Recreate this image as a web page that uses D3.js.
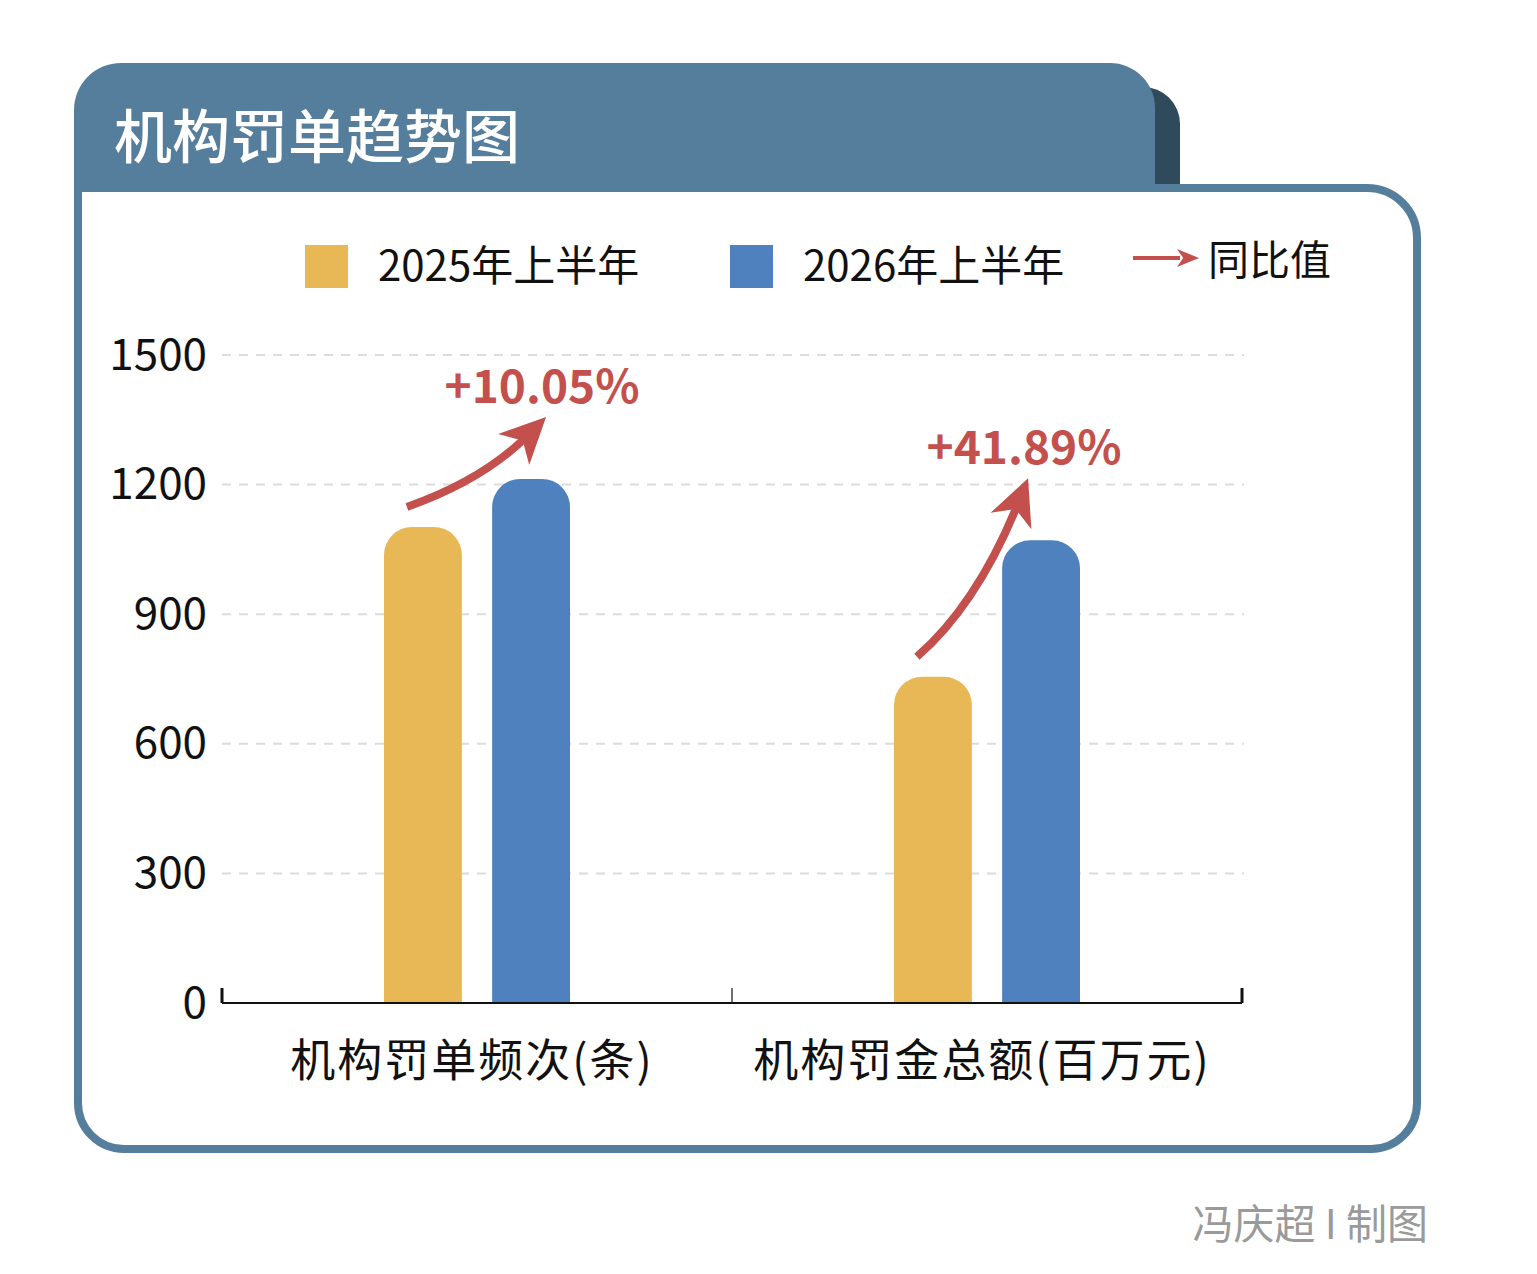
<!DOCTYPE html>
<html>
<head>
<meta charset="utf-8">
<script src="https://cdn.jsdelivr.net/npm/d3@7"></script>
<style>
  body { margin: 0; background: #fff; }
  svg { display: block; font-family: "Noto Sans CJK SC", "Noto Sans", sans-serif; }
</style>
</head>
<body>
<div id="vis"></div>
<script>
// chart data
var categories = ["机构罚单频次(条)", "机构罚金总额(百万元)"];
var seriesNames = ["2025年上半年", "2026年上半年"];
var values2025 = [1102, 755];
var values2026 = [1213, 1071];
var yoyLabels = ["+10.05%", "+41.89%"];
var yTicks = [0, 300, 600, 900, 1200, 1500];

// small horizontal nudges for the yoy arrow tips
var arrowNudge = [15, -13];

var colors = ["#e8b856", "#4e81bd"];
var red = "#c3504d";
var steel = "#557d9c";

var W = 1537, H = 1274;

var svg = d3.select("#vis").append("svg")
  .attr("width", W)
  .attr("height", H);

// ---- card + tab ----
svg.append("path")
  .attr("d", "M1080,192 L1080,87 L1143,87 A37,37 0 0 1 1180,124 L1180,192 Z")
  .attr("fill", "#2f4a5a");

svg.append("path")
  .attr("d", "M78,188 L1367,188 A50,50 0 0 1 1417,238 L1417,1103 A46,46 0 0 1 1371,1149 L124,1149 A46,46 0 0 1 78,1103 Z")
  .attr("fill", "#fff")
  .attr("stroke", steel)
  .attr("stroke-width", 8);

svg.append("path")
  .attr("d", "M74,192 L74,110 A47,47 0 0 1 121,63 L1110,63 A45,45 0 0 1 1155,108 L1155,192 Z")
  .attr("fill", steel);

svg.append("text")
  .attr("x", 114)
  .attr("y", 158)
  .attr("fill", "#fff")
  .attr("font-size", 58)
  .attr("font-weight", 500)
  .text("机构罚单趋势图");

// ---- scales ----
var y = d3.scaleLinear().domain([0, 1500]).range([1003, 355]);
var x0 = d3.scaleBand().domain(categories).range([222, 1242]);
var x1 = d3.scaleBand().domain(seriesNames).range([0, 186]).paddingInner(0.28);
var groupLeft = function(c) { return x0(c) + x0.bandwidth() / 2 - 93; };

// gridlines
svg.append("g")
  .selectAll("line")
  .data(yTicks.filter(function(d) { return d > 0; }))
  .join("line")
    .attr("x1", 222)
    .attr("x2", 1244)
    .attr("y1", function(d) { return y(d); })
    .attr("y2", function(d) { return y(d); })
    .attr("stroke", "#dcdcdc")
    .attr("stroke-width", 2)
    .attr("stroke-dasharray", "9,8");

// y axis labels
var yAxis = svg.append("g")
  .attr("transform", "translate(207,0)")
  .call(d3.axisLeft(y).tickValues(yTicks).tickFormat(d3.format("d")).tickSize(0).tickPadding(0));
yAxis.select(".domain").remove();
yAxis.selectAll("text")
  .attr("font-size", 44)
  .attr("font-family", "'Noto Sans CJK SC', sans-serif")
  .attr("fill", "#111");

// bars with rounded tops
function topRounded(x, yTop, w, yBase, r) {
  return "M" + x + "," + yBase +
    " L" + x + "," + (yTop + r) +
    " A" + r + "," + r + " 0 0 1 " + (x + r) + "," + yTop +
    " L" + (x + w - r) + "," + yTop +
    " A" + r + "," + r + " 0 0 1 " + (x + w) + "," + (yTop + r) +
    " L" + (x + w) + "," + yBase + " Z";
}

var rows = categories.map(function(c, i) {
  return { cat: c, vals: [values2025[i], values2026[i]], yoy: yoyLabels[i], nudge: arrowNudge[i] };
});

var groups = svg.append("g")
  .selectAll("g")
  .data(rows)
  .join("g")
    .attr("transform", function(d) { return "translate(" + groupLeft(d.cat) + ",0)"; });

groups.selectAll("path")
  .data(function(d) { return d.vals.map(function(v, j) { return { s: seriesNames[j], v: v, j: j }; }); })
  .join("path")
    .attr("d", function(d) { return topRounded(x1(d.s), y(d.v), x1.bandwidth(), y(0), 28); })
    .attr("fill", function(d) { return colors[d.j]; });

// x axis
var axis = svg.append("g");
axis.append("line")
  .attr("x1", 222).attr("x2", 1242)
  .attr("y1", y(0)).attr("y2", y(0))
  .attr("stroke", "#111").attr("stroke-width", 2);
var bounds = [x0.range()[0], x0(categories[1]), x0.range()[1]];
axis.selectAll("line.tk")
  .data(bounds)
  .join("line")
    .attr("class", "tk")
    .attr("x1", function(d) { return d; })
    .attr("x2", function(d) { return d; })
    .attr("y1", y(0) - 15)
    .attr("y2", y(0))
    .attr("stroke", "#111")
    .attr("stroke-width", function(d, i) { return i === 1 ? 1.2 : 3; });

var xAxis = svg.append("g")
  .attr("transform", "translate(0," + (y(0) + 2) + ")")
  .call(d3.axisBottom(x0).tickSize(0).tickPadding(40));
xAxis.select(".domain").remove();
xAxis.selectAll("text")
  .attr("font-size", 45)
  .attr("font-family", "'Noto Sans CJK SC', sans-serif")
  .attr("letter-spacing", 2)
  .attr("fill", "#111")
  .attr("dx", -5);

// yoy arrows
function arrowHead(g, tx, ty, ang, len, wid) {
  var pts = [[0, 0], [-len, -wid / 2], [-len * 0.72, 0], [-len, wid / 2]];
  g.append("path")
    .attr("d", "M" + pts.map(function(p) { return p.join(","); }).join(" L") + " Z")
    .attr("fill", red)
    .attr("transform", "translate(" + tx + "," + ty + ") rotate(" + ang + ")");
}

rows.forEach(function(d) {
  var gl = groupLeft(d.cat);
  var x0p = gl + x1(seriesNames[0]) + x1.bandwidth() / 2 - 16;
  var y0p = y(d.vals[0]) - 20;
  var x1p = gl + x1(seriesNames[1]) + x1.bandwidth() / 2 + d.nudge;
  var y1p = y(d.vals[1]) - 62;
  var dx = x1p - x0p, dy = y1p - y0p;
  var cx = x0p + 0.55 * dx, cy = y0p + 0.3 * dy;
  var g = svg.append("g");
  // stop shaft a little before the tip so the head covers it
  var ang = Math.atan2(y1p - cy, x1p - cx);
  var ex = x1p - 25 * Math.cos(ang), ey = y1p - 25 * Math.sin(ang);
  g.append("path")
    .attr("d", "M" + x0p + "," + y0p + " Q" + cx + "," + cy + " " + ex + "," + ey)
    .attr("fill", "none")
    .attr("stroke", red)
    .attr("stroke-width", 8);
  arrowHead(g, x1p, y1p, ang * 180 / Math.PI, 46, 44);
  g.append("text")
    .attr("x", x1p - 4)
    .attr("y", y1p - 14)
    .attr("text-anchor", "middle")
    .attr("fill", red)
    .attr("font-size", 46)
    .attr("font-weight", 700)
    .text(d.yoy);
});

// legend
var legend = svg.append("g");
[305, 730].forEach(function(lx, i) {
  legend.append("rect")
    .attr("x", lx).attr("y", 245)
    .attr("width", 43).attr("height", 43)
    .attr("fill", colors[i]);
  legend.append("text")
    .attr("x", lx + 73).attr("y", 281)
    .attr("font-size", 42)
    .attr("fill", "#111")
    .text(seriesNames[i]);
});
legend.append("line")
  .attr("x1", 1133).attr("x2", 1180)
  .attr("y1", 258).attr("y2", 258)
  .attr("stroke", red).attr("stroke-width", 4);
arrowHead(legend, 1199, 258, 0, 22, 18);
legend.append("text")
  .attr("x", 1208).attr("y", 275)
  .attr("font-size", 41)
  .attr("fill", "#111")
  .text("同比值");

// credit
svg.append("text")
  .attr("x", 1428).attr("y", 1239)
  .attr("text-anchor", "end")
  .attr("font-size", 41)
  .attr("fill", "#9a9a9a")
  .text("冯庆超 I 制图");
</script>
</body>
</html>
